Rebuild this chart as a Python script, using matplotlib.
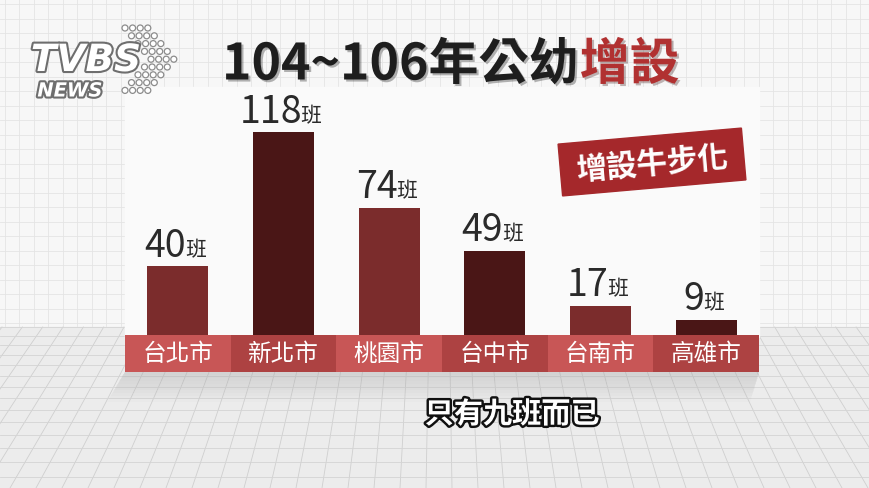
import numpy as np
import matplotlib
matplotlib.use('Agg')
import matplotlib.pyplot as plt
import matplotlib.patheffects as pe
from matplotlib.patches import Rectangle, Circle, Polygon
from matplotlib.transforms import Affine2D

plt.rcParams['font.family'] = ['Noto Sans CJK TC', 'DejaVu Sans']

# 資料
cities = ['台北市', '新北市', '桃園市', '台中市', '台南市', '高雄市']
classes = [40, 118, 74, 49, 17, 9]
unit = '班'
title_black = '104~106年公幼'
title_red = '增設'
stamp = '增設牛步化'
caption = '只有九班而已'

W, H = 870, 489
fig = plt.figure(figsize=(W / 100, H / 100), dpi=100)

# 背景 (像素座標)
bg = fig.add_axes([0, 0, 1, 1])
bg.axis('off')
bg.add_patch(Rectangle((0, 0), W, H, color='#f7f7f7', zorder=0))
for x in np.arange(5, W, 14.5):
    bg.plot([x, x], [0, 328], color='#e4e4e4', lw=0.6, zorder=1)
for y in np.arange(5, 328, 14.5):
    bg.plot([0, W], [y, y], color='#e4e4e4', lw=0.6, zorder=1)
# 地板
bg.add_patch(Rectangle((0, 328), W, H - 328, color='#ececec', zorder=1))
vx, vy = 440, -250
for x in np.arange(-900, 1800, 26):
    bg.plot([vx + (x - vx) * (328 - vy) / (H - vy), x], [328, H],
            color='#cfcfcf', lw=0.6, zorder=2)
ys = 328
step = 9
while ys < H:
    bg.plot([0, W], [ys, ys], color='#d4d4d4', lw=0.6, zorder=2)
    ys += step
    step *= 1.04
# 面板下方陰影
for k in range(10):
    d = 3 + k * 3
    bg.add_patch(Polygon([(125, 373), (759, 373), (759 - d * 0.3, 373 + d),
                          (125 - d * 0.6, 373 + d)],
                         closed=True, color='#b0b0b0', alpha=0.045, lw=0, zorder=2))
bg.set_xlim(0, W)
bg.set_ylim(H, 0)

# 白色面板
bg.add_patch(Rectangle((125, 88), 634, 250, color='#fafafa', zorder=4))

# 標題
title_fx = [pe.withSimplePatchShadow(offset=(1.5, -1.5), alpha=0.3)]
t1 = bg.text(222, 66, title_black, fontsize=36, fontweight='bold', color='#1e1e1e',
             ha='left', va='center', zorder=10, path_effects=title_fx)
fig.canvas.draw()
bb = t1.get_window_extent().transformed(bg.transData.inverted())
bg.text(bb.x1 + 1, 66, title_red, fontsize=36, fontweight='bold', color='#b13131',
        ha='left', va='center', zorder=10, path_effects=title_fx)

# TVBS 標誌
for r in range(9):
    x0 = 125 + 6.5 * min(r, 8 - r)
    for k in range(4):
        bg.add_patch(Circle((x0 + k * 7.6, 29 + r * 7.8), 3.0, facecolor='white',
                            edgecolor='#8c8c8c', lw=0.9, zorder=9))
logo_fx = [pe.withStroke(linewidth=3, foreground='#6e6e6e')]
bg.text(86, 62, 'TVBS', fontsize=27, style='italic', fontweight='bold', color='white',
        ha='center', va='center', family='DejaVu Sans', zorder=10, path_effects=logo_fx)
bg.text(70, 92, 'NEWS', fontsize=14, style='italic', fontweight='bold', color='white',
        ha='center', va='center', family='DejaVu Sans', zorder=10, path_effects=logo_fx)

# 長條圖
ppu = 203 / 118
band = 37 / ppu
ax = fig.add_axes([125 / W, (H - 373) / H, 634 / W, (373 - 88) / H])
ax.set_xlim(-0.5, 5.5)
ax.set_ylim(-band, (336 - 88) / ppu)
ax.axis('off')
ax.patch.set_alpha(0)

x = np.arange(len(cities))
bar_cols = ['#7b2c2c', '#4a1616'] * 3
band_cols = ['#c85656', '#ad4242'] * 3
ax.bar(x, classes, width=0.58, color=bar_cols, zorder=3)
ax.bar(x, [band] * len(x), bottom=-band, width=1.0, color=band_cols, zorder=3)

for i, (c, v) in enumerate(zip(cities, classes)):
    ax.text(i, -band / 2, c, fontsize=17, color='white', ha='center', va='center', zorder=5)
    shift = (len(str(v)) * 20 - 26) / 2 * 0.72
    ax.annotate(str(v), (i, v), xytext=(shift + 1, 1), textcoords='offset points',
                fontsize=27, color='#2a2a2a', ha='right', va='bottom', zorder=5)
    ax.annotate(unit, (i, v), xytext=(shift, 4.5), textcoords='offset points',
                fontsize=15, color='#2a2a2a', ha='left', va='bottom', zorder=5)

# 印章
sx, sy = 652, 163
rot = Affine2D().rotate_deg_around(sx, sy, -5) + bg.transData
bg.add_patch(Rectangle((sx - 92, sy - 26), 184, 52, color='#a5282b', zorder=11,
                       transform=rot))
bg.text(sx, sy + 1, stamp, fontsize=22, fontweight='bold', color='white', ha='center',
        va='center', rotation=5, rotation_mode='anchor', zorder=12)

# 字幕
bg.text(512, 415, caption, fontsize=21, fontweight='bold', color='white', ha='center',
        va='center', zorder=12,
        path_effects=[pe.withStroke(linewidth=3.5, foreground='#111111')])

fig.savefig('out.png', dpi=100)
